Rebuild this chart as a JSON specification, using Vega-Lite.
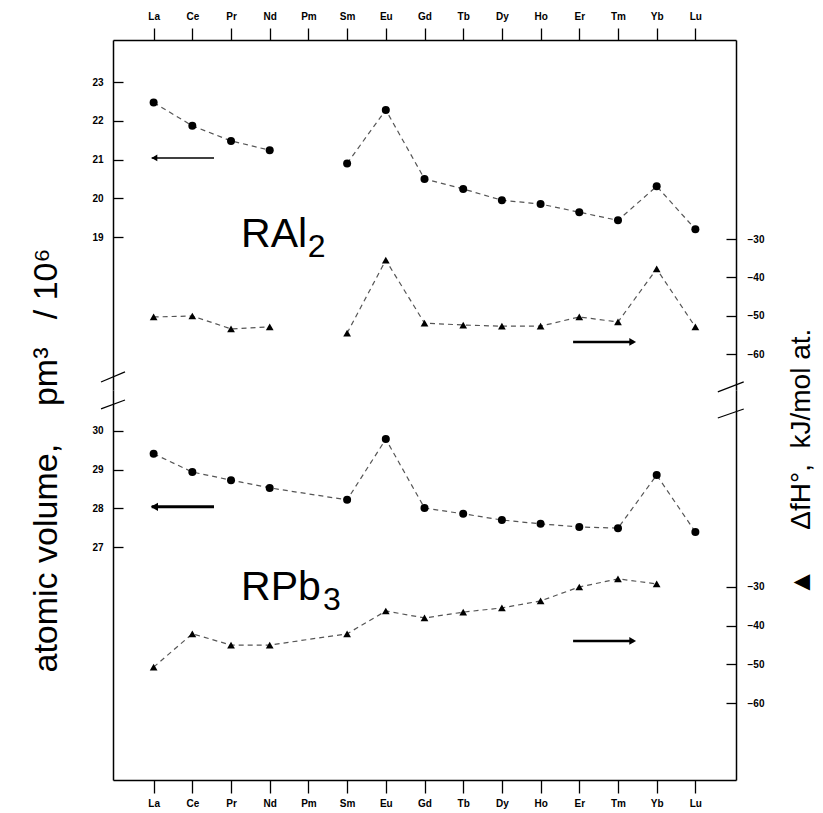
{
  "$schema": "https://vega.github.io/schema/vega-lite/v6.json",
  "background": "white",
  "padding": {"left": 29, "top": 11, "right": 5, "bottom": 5},
  "bounds": "flush",
  "spacing": 0,
  "config": {
    "view": {"stroke": null},
    "font": "Liberation Sans",
    "axis": {
      "grid": false, "domainColor": "black", "tickColor": "black", "labelColor": "black",
      "labelFont": "Liberation Sans", "labelFontSize": 10, "labelFontWeight": "bold",
      "domainWidth": 1.5, "tickWidth": 1.3, "titleFont": "Liberation Sans",
      "titleFontWeight": "normal", "titleColor": "black", "labelOverlap": false, "labelFlush": false
    }
  },
  "datasets": {
    "ral2": [
      {"el": "La", "n": 0, "vol": 22.47, "dh": -50.3},
      {"el": "Ce", "n": 1, "vol": 21.87, "dh": -50.05},
      {"el": "Pr", "n": 2, "vol": 21.48, "dh": -53.4},
      {"el": "Nd", "n": 3, "vol": 21.24, "dh": -52.9},
      {"el": "Pm", "n": 4, "vol": null, "dh": null},
      {"el": "Sm", "n": 5, "vol": 20.9, "dh": -54.5},
      {"el": "Eu", "n": 6, "vol": 22.28, "dh": -35.5},
      {"el": "Gd", "n": 7, "vol": 20.5, "dh": -51.9},
      {"el": "Tb", "n": 8, "vol": 20.24, "dh": -52.4},
      {"el": "Dy", "n": 9, "vol": 19.95, "dh": -52.7},
      {"el": "Ho", "n": 10, "vol": 19.85, "dh": -52.7},
      {"el": "Er", "n": 11, "vol": 19.64, "dh": -50.3},
      {"el": "Tm", "n": 12, "vol": 19.43, "dh": -51.6},
      {"el": "Yb", "n": 13, "vol": 20.31, "dh": -37.8},
      {"el": "Lu", "n": 14, "vol": 19.2, "dh": -52.9}
    ],
    "rpb3": [
      {"el": "La", "n": 0, "vol": 29.41, "dh": -50.7},
      {"el": "Ce", "n": 1, "vol": 28.94, "dh": -42.1},
      {"el": "Pr", "n": 2, "vol": 28.73, "dh": -45.0},
      {"el": "Nd", "n": 3, "vol": 28.53, "dh": -45.0},
      {"el": "Sm", "n": 5, "vol": 28.22, "dh": -42.1},
      {"el": "Eu", "n": 6, "vol": 29.79, "dh": -36.2},
      {"el": "Gd", "n": 7, "vol": 28.01, "dh": -38.0},
      {"el": "Tb", "n": 8, "vol": 27.86, "dh": -36.5},
      {"el": "Dy", "n": 9, "vol": 27.7, "dh": -35.4},
      {"el": "Ho", "n": 10, "vol": 27.6, "dh": -33.6},
      {"el": "Er", "n": 11, "vol": 27.52, "dh": -30.0},
      {"el": "Tm", "n": 12, "vol": 27.49, "dh": -27.9},
      {"el": "Yb", "n": 13, "vol": 28.86, "dh": -29.2},
      {"el": "Lu", "n": 14, "vol": 27.39, "dh": null}
    ]
  },
  "vconcat": [
    {
      "width": 623, "height": 350,
      "layer": [
        {
          "layer": [
            {
              "data": {"name": "ral2"},
              "mark": {"type": "line", "color": "#555", "strokeDash": [5, 4], "strokeWidth": 1.2, "invalid": "break-paths-filter-domains"},
              "encoding": {
                "x": {"field": "n", "type": "quantitative", "scale": {"domain": [-1.05, 15.05], "nice": false, "zero": false},
                  "axis": {"orient": "top", "title": null, "values": [0,1,2,3,4,5,6,7,8,9,10,11,12,13,14],
                    "labelExpr": "['La','Ce','Pr','Nd','Pm','Sm','Eu','Gd','Tb','Dy','Ho','Er','Tm','Yb','Lu'][datum.value]",
                    "tickSize": 12, "labelPadding": 7}},
                "y": {"field": "vol", "type": "quantitative", "scale": {"domain": [15.052, 24.084], "nice": false, "zero": false},
                  "axis": {"orient": "left", "values": [19, 20, 21, 22, 23], "tickSize": -10, "labelPadding": 20,
                    "title": "atomic volume,\u00a0\u00a0\u00a0\u00a0pm³\u00a0\u00a0\u00a0/\u00a010⁶",
                    "titleAngle": 270, "titleX": -67, "titleY": 420, "titleAlign": "center", "titleBaseline": "middle",
                    "titleFontSize": 34}}
              }
            },
            {
              "data": {"name": "ral2"},
              "mark": {"type": "point", "shape": "circle", "filled": true, "color": "black", "size": 64, "opacity": 1},
              "encoding": {
                "x": {"field": "n", "type": "quantitative", "scale": {"domain": [-1.05, 15.05], "nice": false, "zero": false}},
                "y": {"field": "vol", "type": "quantitative", "scale": {"domain": [15.052, 24.084], "nice": false, "zero": false}}
              }
            },
            {
              "data": {"values": [{}]},
              "mark": {"type": "rule", "color": "black", "strokeWidth": 1.5},
              "encoding": {
                "x": {"datum": -0.05, "type": "quantitative", "scale": {"domain": [-1.05, 15.05], "nice": false, "zero": false}},
                "x2": {"datum": 1.56},
                "y": {"datum": 21.04, "type": "quantitative", "scale": {"domain": [15.052, 24.084], "nice": false, "zero": false}}
              }
            },
            {
              "data": {"values": [{}]},
              "mark": {"type": "point", "shape": "triangle-left", "filled": true, "color": "black", "size": 45, "opacity": 1},
              "encoding": {
                "x": {"datum": 0.02, "type": "quantitative", "scale": {"domain": [-1.05, 15.05], "nice": false, "zero": false}},
                "y": {"datum": 21.04, "type": "quantitative", "scale": {"domain": [15.052, 24.084], "nice": false, "zero": false}}
              }
            },
            {
              "data": {"values": [{}]},
              "mark": {"type": "text", "text": "RAl", "fontSize": 41, "align": "left", "baseline": "alphabetic", "font": "Liberation Sans", "color": "black"},
              "encoding": {
                "x": {"datum": 2.26, "type": "quantitative", "scale": {"domain": [-1.05, 15.05], "nice": false, "zero": false}},
                "y": {"datum": 18.74, "type": "quantitative", "scale": {"domain": [15.052, 24.084], "nice": false, "zero": false}}
              }
            },
            {
              "data": {"values": [{}]},
              "mark": {"type": "text", "text": "2", "fontSize": 32, "align": "left", "baseline": "alphabetic", "font": "Liberation Sans", "color": "black"},
              "encoding": {
                "x": {"datum": 3.98, "type": "quantitative", "scale": {"domain": [-1.05, 15.05], "nice": false, "zero": false}},
                "y": {"datum": 18.48, "type": "quantitative", "scale": {"domain": [15.052, 24.084], "nice": false, "zero": false}}
              }
            },
            {
              "data": {"values": [{}]},
              "mark": {"type": "rule", "color": "black", "strokeWidth": 1.2},
              "encoding": {
                "x": {"datum": -1.36, "type": "quantitative", "scale": {"domain": [-1.05, 15.05], "nice": false, "zero": false}},
                "x2": {"datum": -0.74},
                "y": {"datum": 15.26, "type": "quantitative", "scale": {"domain": [15.052, 24.084], "nice": false, "zero": false}},
                "y2": {"datum": 15.52}
              }
            }
          ]
        },
        {
          "layer": [
            {
              "data": {"name": "ral2"},
              "mark": {"type": "line", "color": "#555", "strokeDash": [5, 4], "strokeWidth": 1.2, "invalid": "break-paths-filter-domains"},
              "encoding": {
                "x": {"field": "n", "type": "quantitative", "scale": {"domain": [-1.05, 15.05], "nice": false, "zero": false}},
                "y": {"field": "dh", "type": "quantitative", "scale": {"domain": [-69.32, 21.82], "nice": false, "zero": false},
                  "axis": {"orient": "right", "values": [-30, -40, -50, -60], "tickSize": -10, "labelPadding": 21,
                    "title": "▲\u00a0\u00a0\u00a0\u00a0\u00a0ΔfH°,\u00a0\u00a0kJ/mol at.",
                    "titleAngle": 270, "titleX": 65, "titleY": 422, "titleAlign": "center", "titleBaseline": "middle",
                    "titleFontSize": 28}}
              }
            },
            {
              "data": {"name": "ral2"},
              "mark": {"type": "point", "shape": "triangle-up", "filled": true, "color": "black", "size": 60, "opacity": 1},
              "encoding": {
                "x": {"field": "n", "type": "quantitative", "scale": {"domain": [-1.05, 15.05], "nice": false, "zero": false}},
                "y": {"field": "dh", "type": "quantitative", "scale": {"domain": [-69.32, 21.82], "nice": false, "zero": false}}
              }
            },
            {
              "data": {"values": [{}]},
              "mark": {"type": "rule", "color": "black", "strokeWidth": 2.5},
              "encoding": {
                "x": {"datum": 10.84, "type": "quantitative", "scale": {"domain": [-1.05, 15.05], "nice": false, "zero": false}},
                "x2": {"datum": 12.4},
                "y": {"datum": -56.8, "type": "quantitative", "scale": {"domain": [-69.32, 21.82], "nice": false, "zero": false}}
              }
            },
            {
              "data": {"values": [{}]},
              "mark": {"type": "point", "shape": "triangle-right", "filled": true, "color": "black", "size": 60, "opacity": 1},
              "encoding": {
                "x": {"datum": 12.38, "type": "quantitative", "scale": {"domain": [-1.05, 15.05], "nice": false, "zero": false}},
                "y": {"datum": -56.8, "type": "quantitative", "scale": {"domain": [-69.32, 21.82], "nice": false, "zero": false}}
              }
            },
            {
              "data": {"values": [{}]},
              "mark": {"type": "rule", "color": "black", "strokeWidth": 1.2},
              "encoding": {
                "x": {"datum": 14.58, "type": "quantitative", "scale": {"domain": [-1.05, 15.05], "nice": false, "zero": false}},
                "x2": {"datum": 15.25},
                "y": {"datum": -69.8, "type": "quantitative", "scale": {"domain": [-69.32, 21.82], "nice": false, "zero": false}},
                "y2": {"datum": -67.2}
              }
            }
          ]
        }
      ],
      "resolve": {"scale": {"y": "independent"}}
    },
    {
      "width": 623, "height": 390,
      "layer": [
        {
          "layer": [
            {
              "data": {"name": "rpb3"},
              "mark": {"type": "line", "color": "#555", "strokeDash": [5, 4], "strokeWidth": 1.2, "invalid": "filter"},
              "encoding": {
                "x": {"field": "n", "type": "quantitative", "scale": {"domain": [-1.05, 15.05], "nice": false, "zero": false},
                  "axis": {"orient": "bottom", "title": null, "values": [0,1,2,3,4,5,6,7,8,9,10,11,12,13,14],
                    "labelExpr": "['La','Ce','Pr','Nd','Pm','Sm','Eu','Gd','Tb','Dy','Ho','Er','Tm','Yb','Lu'][datum.value]",
                    "tickSize": 13, "labelPadding": 5}},
                "y": {"field": "vol", "type": "quantitative", "scale": {"domain": [20.982, 31.059], "nice": false, "zero": false},
                  "axis": {"orient": "left", "values": [27, 28, 29, 30], "tickSize": -10, "labelPadding": 20, "title": null}}
              }
            },
            {
              "data": {"name": "rpb3"},
              "mark": {"type": "point", "shape": "circle", "filled": true, "color": "black", "size": 64, "opacity": 1},
              "encoding": {
                "x": {"field": "n", "type": "quantitative", "scale": {"domain": [-1.05, 15.05], "nice": false, "zero": false}},
                "y": {"field": "vol", "type": "quantitative", "scale": {"domain": [20.982, 31.059], "nice": false, "zero": false}}
              }
            },
            {
              "data": {"values": [{}]},
              "mark": {"type": "rule", "color": "black", "strokeWidth": 3},
              "encoding": {
                "x": {"datum": -0.05, "type": "quantitative", "scale": {"domain": [-1.05, 15.05], "nice": false, "zero": false}},
                "x2": {"datum": 1.56},
                "y": {"datum": 28.04, "type": "quantitative", "scale": {"domain": [20.982, 31.059], "nice": false, "zero": false}}
              }
            },
            {
              "data": {"values": [{}]},
              "mark": {"type": "point", "shape": "triangle-left", "filled": true, "color": "black", "size": 70, "opacity": 1},
              "encoding": {
                "x": {"datum": 0.02, "type": "quantitative", "scale": {"domain": [-1.05, 15.05], "nice": false, "zero": false}},
                "y": {"datum": 28.04, "type": "quantitative", "scale": {"domain": [20.982, 31.059], "nice": false, "zero": false}}
              }
            },
            {
              "data": {"values": [{}]},
              "mark": {"type": "text", "text": "RPb", "fontSize": 41, "align": "left", "baseline": "alphabetic", "font": "Liberation Sans", "color": "black"},
              "encoding": {
                "x": {"datum": 2.26, "type": "quantitative", "scale": {"domain": [-1.05, 15.05], "nice": false, "zero": false}},
                "y": {"datum": 25.63, "type": "quantitative", "scale": {"domain": [20.982, 31.059], "nice": false, "zero": false}}
              }
            },
            {
              "data": {"values": [{}]},
              "mark": {"type": "text", "text": "3", "fontSize": 32, "align": "left", "baseline": "alphabetic", "font": "Liberation Sans", "color": "black"},
              "encoding": {
                "x": {"datum": 4.38, "type": "quantitative", "scale": {"domain": [-1.05, 15.05], "nice": false, "zero": false}},
                "y": {"datum": 25.37, "type": "quantitative", "scale": {"domain": [20.982, 31.059], "nice": false, "zero": false}}
              }
            },
            {
              "data": {"values": [{}]},
              "mark": {"type": "rule", "color": "black", "strokeWidth": 1.2},
              "encoding": {
                "x": {"datum": -1.36, "type": "quantitative", "scale": {"domain": [-1.05, 15.05], "nice": false, "zero": false}},
                "x2": {"datum": -0.74},
                "y": {"datum": 30.57, "type": "quantitative", "scale": {"domain": [20.982, 31.059], "nice": false, "zero": false}},
                "y2": {"datum": 30.8}
              }
            }
          ]
        },
        {
          "layer": [
            {
              "data": {"name": "rpb3"},
              "mark": {"type": "line", "color": "#555", "strokeDash": [5, 4], "strokeWidth": 1.2, "invalid": "filter"},
              "encoding": {
                "x": {"field": "n", "type": "quantitative", "scale": {"domain": [-1.05, 15.05], "nice": false, "zero": false}},
                "y": {"field": "dh", "type": "quantitative", "scale": {"domain": [-79.87, 20.9], "nice": false, "zero": false},
                  "axis": {"orient": "right", "values": [-30, -40, -50, -60], "tickSize": -10, "labelPadding": 21, "title": null}}
              }
            },
            {
              "data": {"name": "rpb3"},
              "mark": {"type": "point", "shape": "triangle-up", "filled": true, "color": "black", "size": 60, "opacity": 1},
              "encoding": {
                "x": {"field": "n", "type": "quantitative", "scale": {"domain": [-1.05, 15.05], "nice": false, "zero": false}},
                "y": {"field": "dh", "type": "quantitative", "scale": {"domain": [-79.87, 20.9], "nice": false, "zero": false}}
              }
            },
            {
              "data": {"values": [{}]},
              "mark": {"type": "rule", "color": "black", "strokeWidth": 2.5},
              "encoding": {
                "x": {"datum": 10.84, "type": "quantitative", "scale": {"domain": [-1.05, 15.05], "nice": false, "zero": false}},
                "x2": {"datum": 12.4},
                "y": {"datum": -43.95, "type": "quantitative", "scale": {"domain": [-79.87, 20.9], "nice": false, "zero": false}}
              }
            },
            {
              "data": {"values": [{}]},
              "mark": {"type": "point", "shape": "triangle-right", "filled": true, "color": "black", "size": 60, "opacity": 1},
              "encoding": {
                "x": {"datum": 12.38, "type": "quantitative", "scale": {"domain": [-1.05, 15.05], "nice": false, "zero": false}},
                "y": {"datum": -43.95, "type": "quantitative", "scale": {"domain": [-79.87, 20.9], "nice": false, "zero": false}}
              }
            },
            {
              "data": {"values": [{}]},
              "mark": {"type": "rule", "color": "black", "strokeWidth": 1.2},
              "encoding": {
                "x": {"datum": 14.58, "type": "quantitative", "scale": {"domain": [-1.05, 15.05], "nice": false, "zero": false}},
                "x2": {"datum": 15.25},
                "y": {"datum": 13.67, "type": "quantitative", "scale": {"domain": [-79.87, 20.9], "nice": false, "zero": false}},
                "y2": {"datum": 16.0}
              }
            }
          ]
        }
      ],
      "resolve": {"scale": {"y": "independent"}}
    }
  ]
}
